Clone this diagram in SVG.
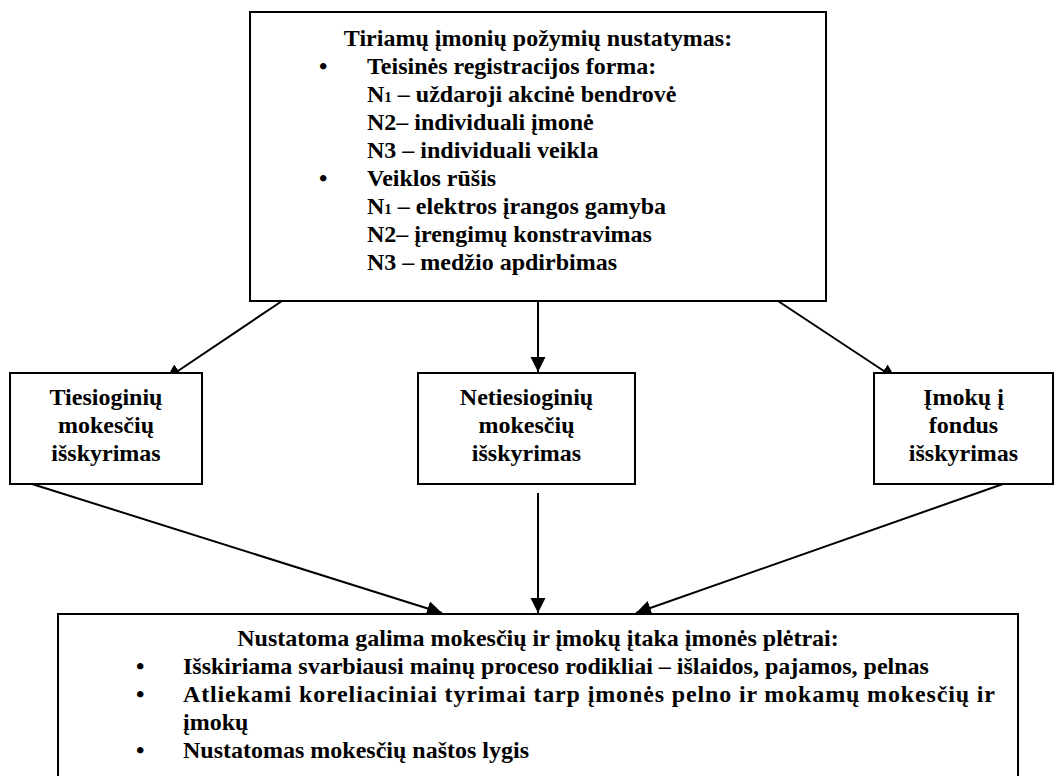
<svg xmlns="http://www.w3.org/2000/svg" width="1056" height="776" viewBox="0 0 1056 776">
<style>
  .box { fill: #ffffff; stroke: #000000; stroke-width: 2; }
  .t { font-family: "Liberation Serif", "Times New Roman", serif; font-weight: bold; font-size: 24px; fill: #000000; }
  .c { text-anchor: middle; }
  .sub { font-size: 15px; }
  .conn { stroke: #000000; stroke-width: 2; fill: none; marker-end: url(#ah); }
</style>
<defs>
  <marker id="ah" markerUnits="userSpaceOnUse" markerWidth="16" markerHeight="16" refX="15" refY="7.5" orient="auto">
    <path d="M0,0 L15,7.5 L0,15 z" fill="#000000"/>
  </marker>
</defs>
<rect width="1056" height="776" fill="#ffffff"/>
<g id="connectors">
  <line class="conn" x1="282" y1="301" x2="166" y2="379"/>
  <line class="conn" x1="538" y1="301" x2="538" y2="372"/>
  <line class="conn" x1="778" y1="301" x2="896" y2="379"/>
  <line class="conn" x1="32" y1="484" x2="442" y2="613"/>
  <line class="conn" x1="538" y1="493" x2="538" y2="613"/>
  <line class="conn" x1="1003" y1="484" x2="636" y2="613"/>
</g>
<g id="node-top">
  <rect class="box" x="250" y="12" width="576" height="289"/>
  <text class="t c" x="538" y="46">Tiriamų įmonių požymių nustatymas:</text>
  <text class="t" x="319" y="74">•</text>
  <text class="t" x="367" y="74">Teisinės registracijos forma:</text>
  <text class="t" x="367" y="102">N<tspan class="sub">1</tspan> – uždaroji akcinė bendrovė</text>
  <text class="t" x="367" y="130">N2– individuali įmonė</text>
  <text class="t" x="367" y="158">N3 – individuali veikla</text>
  <text class="t" x="319" y="186">•</text>
  <text class="t" x="367" y="186">Veiklos rūšis</text>
  <text class="t" x="367" y="214">N<tspan class="sub">1</tspan> – elektros įrangos gamyba</text>
  <text class="t" x="367" y="242">N2– įrengimų konstravimas</text>
  <text class="t" x="367" y="270">N3 – medžio apdirbimas</text>
</g>
<g id="node-left">
  <rect class="box" x="10" y="373" width="192" height="111"/>
  <text class="t c" x="106" y="405">Tiesioginių</text>
  <text class="t c" x="106" y="433">mokesčių</text>
  <text class="t c" x="106" y="461">išskyrimas</text>
</g>
<g id="node-middle">
  <rect class="box" x="418" y="373" width="217" height="111"/>
  <text class="t c" x="526.5" y="405">Netiesioginių</text>
  <text class="t c" x="526.5" y="433">mokesčių</text>
  <text class="t c" x="526.5" y="461">išskyrimas</text>
</g>
<g id="node-right">
  <rect class="box" x="874" y="373" width="179" height="111"/>
  <text class="t c" x="963.5" y="405">Įmokų į</text>
  <text class="t c" x="963.5" y="433">fondus</text>
  <text class="t c" x="963.5" y="461">išskyrimas</text>
</g>
<g id="node-bottom">
  <rect class="box" x="58" y="614" width="960" height="180"/>
  <text class="t c" x="538" y="646">Nustatoma galima mokesčių ir įmokų įtaka įmonės plėtrai:</text>
  <text class="t" x="136" y="674">•</text>
  <text class="t" x="183" y="674">Išskiriama svarbiausi mainų proceso rodikliai – išlaidos, pajamos, pelnas</text>
  <text class="t" x="136" y="702">•</text>
  <text class="t" x="183" y="702" textLength="812" lengthAdjust="spacing">Atliekami koreliaciniai tyrimai tarp įmonės pelno ir mokamų mokesčių ir</text>
  <text class="t" x="183" y="730">įmokų</text>
  <text class="t" x="136" y="758">•</text>
  <text class="t" x="183" y="758">Nustatomas mokesčių naštos lygis</text>
</g>
</svg>
